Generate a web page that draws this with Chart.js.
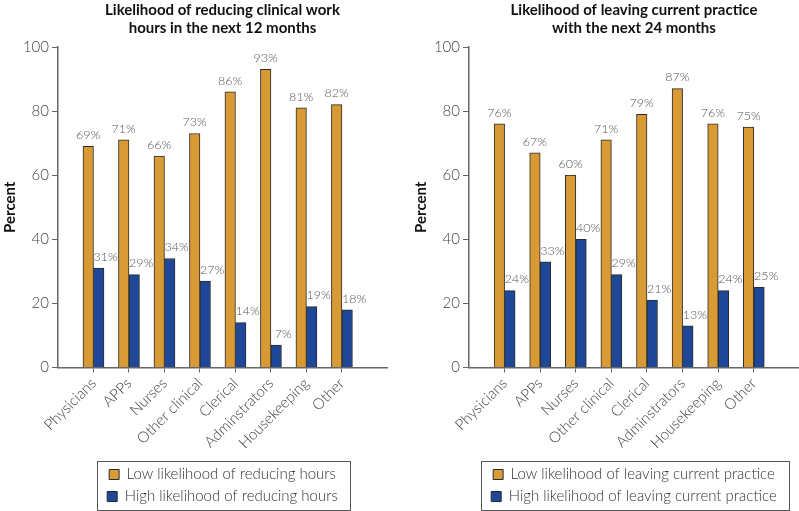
<!DOCTYPE html>
<html><head><meta charset="utf-8">
<script src="https://cdn.jsdelivr.net/npm/chart.js@4.4.1/dist/chart.umd.min.js"></script>
<style>
html,body{margin:0;padding:0;background:#fff;}
#wrap{position:relative;width:799px;height:511px;overflow:hidden;}
.pane{position:absolute;top:0;height:511px;}
#p1{left:0;width:400px;} #p2{left:400px;width:399px;}
</style></head><body>
<div id="wrap"><div class="pane" id="p1"><canvas id="c1" width="400" height="511"></canvas></div><div class="pane" id="p2"><canvas id="c2" width="399" height="511"></canvas></div></div>
<script>
const categories = ['Physicians','APPs','Nurses','Other clinical','Clerical','Adminstrators','Housekeeping','Other'];
const reduceLow = [69,71,66,73,86,93,81,82];
const reduceHigh = [31,29,34,27,14,7,19,18];
const leaveLow = [76,67,60,71,79,87,76,75];
const leaveHigh = [24,33,40,29,21,13,24,25];
const yTicks = [0,20,40,60,80,100];
const titles = [['Likelihood of reducing clinical work','hours in the next 12 months'],['Likelihood of leaving current practice','with the next 24 months']];
const legendLabels = [['Low likelihood of reducing hours','High likelihood of reducing hours'],['Low likelihood of leaving current practice','High likelihood of leaving current practice']];

const ORANGE = '#D89A34', BLUE = '#1F4798', EDGE = '#2a2a2a', AXIS = '#666';
const FONT = 'Lato';

const valueLabels = {
  id: 'valueLabels',
  afterDatasetsDraw(chart) {
    const ctx = chart.ctx;
    ctx.save();
    ctx.font = '300 12.5px ' + FONT;
    ctx.fillStyle = '#555';
    ctx.textAlign = 'center';
    ctx.textBaseline = 'bottom';
    chart.data.datasets.forEach((ds, di) => {
      const meta = chart.getDatasetMeta(di);
      meta.data.forEach((el, i) => {
        const off = di === 1 ? 7 : 0;
        ctx.fillText(ds.data[i].y + '%', el.x + off, el.y - 5);
      });
    });
    ctx.restore();
  }
};

const legendBox = {
  id: 'legendBox',
  afterDraw(chart) {
    const hb = chart.legend.legendHitBoxes;
    if (!hb || !hb.length) return;
    let l = Infinity, r = -Infinity, t = Infinity, b = -Infinity;
    hb.forEach(h => { l = Math.min(l, h.left); r = Math.max(r, h.left + h.width); t = Math.min(t, h.top); b = Math.max(b, h.top + h.height); });
    const ctx = chart.ctx;
    ctx.save();
    ctx.strokeStyle = '#555';
    ctx.lineWidth = 1;
    ctx.strokeRect(Math.round(l - 10) + 0.5, Math.round(t - 6) + 0.5, Math.round(r - l + 22), Math.round(b - t + 12));
    ctx.restore();
  }
};

function makeChart(id, low, high, title, legend, pad) {
  return new Chart(document.getElementById(id), {
    type: 'bar',
    data: {
      datasets: [
        { label: legend[0], data: low.map((v, i) => ({ x: i + 1, y: v })), backgroundColor: ORANGE, borderColor: EDGE, borderWidth: 1, barThickness: 10.5 },
        { label: legend[1], data: high.map((v, i) => ({ x: i + 1, y: v })), backgroundColor: BLUE, borderColor: EDGE, borderWidth: 1, barThickness: 10.5 }
      ]
    },
    options: {
      responsive: false,
      animation: false,
      layout: { padding: pad },
      plugins: {
        title: { display: true, text: title, fullSize: false, color: '#111', font: { family: FONT, size: 15, weight: 'bold', lineHeight: 1.2 }, padding: { top: 1, bottom: 10 } },
        legend: { position: 'bottom', fullSize: false, labels: { boxWidth: 10, boxHeight: 10, padding: 7, color: '#333', font: { family: FONT, size: 15, weight: 300 } } },
        tooltip: { enabled: false }
      },
      scales: {
        x: {
          type: 'linear', min: 0, max: 9.27, offset: false,
          afterBuildTicks: s => { s.ticks = categories.map((c, i) => ({ value: i + 1 })); },
          afterFit: s => { s.height = 92.5; },
          ticks: { autoSkip: false, maxRotation: 45, minRotation: 45, padding: 2, color: '#444', font: { family: FONT, size: 15, weight: 300 }, callback: v => categories[v - 1] ?? '' },
          grid: { offset: false, drawOnChartArea: false, tickLength: 5, color: AXIS, lineWidth: 1 },
          border: { color: AXIS, width: 1.5 }
        },
        y: {
          min: 0, max: 100,
          afterBuildTicks: s => { s.ticks = yTicks.map(v => ({ value: v })); },
          afterFit: s => { s.width = 58; },
          ticks: { padding: 3, color: '#444', font: { family: FONT, size: 15, weight: 300 } },
          grid: { drawOnChartArea: false, tickLength: 6, color: AXIS, lineWidth: 1 },
          border: { color: AXIS, width: 1.5 },
          title: { display: true, text: 'Percent', color: '#111', font: { family: FONT, size: 15, weight: 'bold' }, padding: { top: 1, bottom: 0 } }
        }
      }
    },
    plugins: [valueLabels, legendBox]
  });
}

makeChart('c1', reduceLow, reduceHigh, titles[0], legendLabels[0], { left: 0, right: 13, top: 0, bottom: -3 });
makeChart('c2', leaveLow, leaveHigh, titles[1], legendLabels[1], { left: 11, right: 0, top: 0, bottom: -3 });
</script>
</body></html>
